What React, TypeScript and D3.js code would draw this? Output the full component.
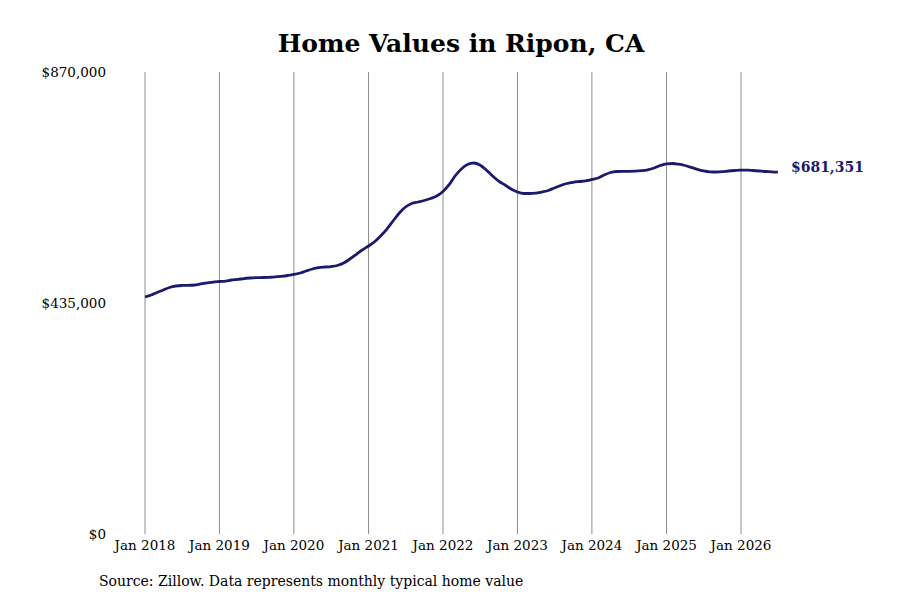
import * as d3 from "d3";

const START_YEAR = 2018;
const START_MONTH = 0;

// Monthly typical home value, Jan 2018 -> Jul 2026
const VALUES_2018 = [446300, 450000, 454800, 459500, 464200, 467000, 468000, 468300, 468900, 470800, 472700, 474500];
const VALUES_2019 = [475500, 476400, 478300, 479300, 481100, 482100, 482700, 483000, 483400, 484000, 485300, 486800];
const VALUES_2020 = [488700, 491500, 495300, 499000, 501500, 502800, 503700, 505600, 510300, 517800, 526300, 534800];
const VALUES_2021 = [542300, 550800, 561200, 574300, 589400, 604500, 615800, 622400, 625200, 628000, 631800, 636500];
const VALUES_2022 = [645000, 658200, 674200, 687300, 695800, 698600, 694900, 685500, 674200, 664700, 657200, 649700];
const VALUES_2023 = [644000, 641200, 641200, 642100, 644000, 646900, 651600, 656300, 660000, 662300, 663800, 665100];
const VALUES_2024 = [667600, 670400, 676000, 680700, 682600, 683000, 683000, 683200, 684100, 685800, 689200, 693900];
const VALUES_2025 = [697100, 697700, 696400, 693900, 690500, 686800, 683900, 682100, 681700, 682200, 683600, 684500];
const VALUES_2026 = [685100, 685100, 684500, 683600, 682600, 682100, 681351];

const VALUES = [
	...VALUES_2018,
	...VALUES_2019,
	...VALUES_2020,
	...VALUES_2021,
	...VALUES_2022,
	...VALUES_2023,
	...VALUES_2024,
	...VALUES_2025,
	...VALUES_2026,
];

const Y_TICKS = [0, 435000, 870000];
const X_TICK_YEARS = [2018, 2019, 2020, 2021, 2022, 2023, 2024, 2025, 2026];

const TITLE = "Home Values in Ripon, CA";
const SOURCE = "Source: Zillow. Data represents monthly typical home value";

const LINE_COLOR = "#1c1a6b";
const FONT = "'DejaVu Serif', serif";

export default function App() {
	const width = 900;
	const height = 600;

	const data = VALUES.map((v, i) => ({
		date: new Date(START_YEAR, START_MONTH + i, 1),
		value: v,
	}));

	const x = d3
		.scaleTime()
		.domain([new Date(2018, 0, 1), new Date(2026, 0, 1)])
		.range([145, 741]);

	const y = d3.scaleLinear().domain([0, 870000]).range([534, 72]);

	const line = d3
		.line<{ date: Date; value: number }>()
		.x((d) => x(d.date))
		.y((d) => y(d.value))
		.curve(d3.curveMonotoneX);

	const fmt = (v: number) => "$" + d3.format(",")(v);
	const last = data[data.length - 1];

	return (
		<div style={{ position: "fixed", left: 0, top: 0 }}>
			<svg width={width} height={height} style={{ display: "block", background: "#fff" }}>
				<text
					x={461}
					y={52}
					textAnchor="middle"
					fontFamily={FONT}
					fontWeight="bold"
					fontSize={25}
					fill="#000"
				>
					{TITLE}
				</text>

				{/* Vertical grid lines */}
				{X_TICK_YEARS.map((yr) => (
					<line
						key={yr}
						x1={x(new Date(yr, 0, 1))}
						x2={x(new Date(yr, 0, 1))}
						y1={y(870000)}
						y2={y(0)}
						stroke="#8c8c8c"
						strokeWidth={1}
					/>
				))}

				{/* Y labels */}
				{Y_TICKS.map((t) => (
					<text
						key={t}
						x={106}
						y={y(t)}
						dy="0.35em"
						textAnchor="end"
						fontFamily={FONT}
						fontSize={13.5}
						fill="#000"
					>
						{fmt(t)}
					</text>
				))}

				{/* X labels */}
				{X_TICK_YEARS.map((yr) => (
					<text
						key={yr}
						x={x(new Date(yr, 0, 1))}
						y={550}
						textAnchor="middle"
						fontFamily={FONT}
						fontSize={13.5}
						fill="#000"
					>
						{`Jan ${yr}`}
					</text>
				))}

				<path d={line(data) ?? ""} fill="none" stroke={LINE_COLOR} strokeWidth={2.8} strokeLinejoin="round" />

				<text
					x={x(last.date) + 13}
					y={y(last.value) - 5}
					dy="0.35em"
					fontFamily={FONT}
					fontWeight="bold"
					fontSize={14}
					fill={LINE_COLOR}
				>
					{fmt(last.value)}
				</text>

				<text x={99} y={586} fontFamily={FONT} fontSize={14} fill="#000">
					{SOURCE}
				</text>
			</svg>
		</div>
	);
}
